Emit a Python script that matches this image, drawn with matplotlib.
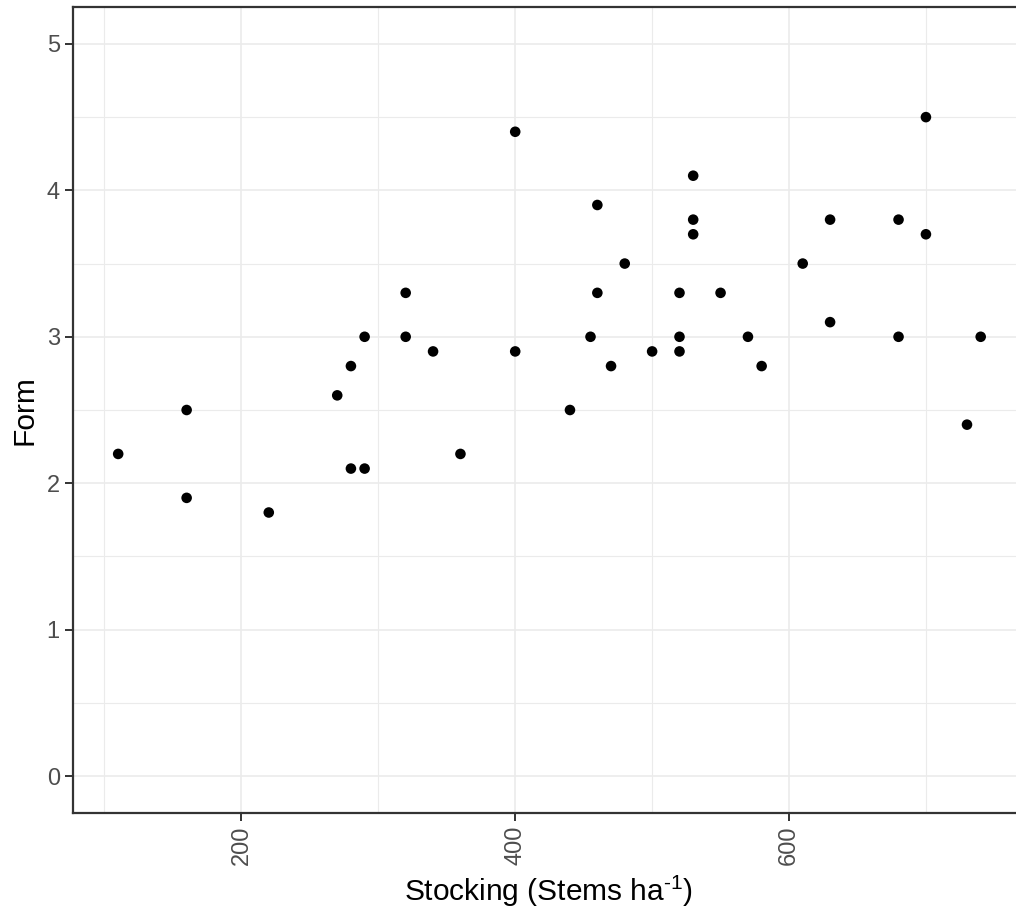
import matplotlib
matplotlib.use("Agg")
import matplotlib.pyplot as plt
from matplotlib.ticker import MultipleLocator

plt.rcParams["font.family"] = ["Liberation Sans", "DejaVu Sans"]
plt.rcParams["mathtext.fontset"] = "custom"
plt.rcParams["mathtext.rm"] = "Liberation Sans"
plt.rcParams["mathtext.it"] = "Liberation Sans"
plt.rcParams["mathtext.default"] = "rm"

# Stand stocking (stems per hectare) and stem form score
stocking = [110, 160, 160, 220, 270, 280, 280, 290, 290, 320,
            320, 340, 360, 400, 400, 440, 455, 460, 460, 470,
            480, 500, 520, 520, 520, 530, 530, 530, 550, 570,
            580, 610, 630, 630, 680, 680, 700, 700, 730, 740]
form = [2.2, 2.5, 1.9, 1.8, 2.6, 2.8, 2.1, 3.0, 2.1, 3.3,
        3.0, 2.9, 2.2, 4.4, 2.9, 2.5, 3.0, 3.9, 3.3, 2.8,
        3.5, 2.9, 3.3, 3.0, 2.9, 4.1, 3.8, 3.7, 3.3, 3.0,
        2.8, 3.5, 3.8, 3.1, 3.8, 3.0, 4.5, 3.7, 2.4, 3.0]

x_ticks = [200, 400, 600]
y_ticks = [0, 1, 2, 3, 4, 5]

W, H = 1016, 924
fig = plt.figure(figsize=(W / 100, H / 100), dpi=100)
fig.patch.set_facecolor("white")

# panel placed in pixel units; it runs slightly past the right edge
left_px, top_px, bottom_px = 73, 7.3, 812.7
width_px = 951.5
ax = fig.add_axes([left_px / W, (H - bottom_px) / H,
                   width_px / W, (bottom_px - top_px) / H])

ax.scatter(stocking, form, s=58, color="black", edgecolors="none", zorder=3)

ax.set_xlim(77, 772)
ax.set_ylim(-0.25, 5.25)
ax.set_xticks(x_ticks)
ax.set_yticks(y_ticks)
ax.xaxis.set_minor_locator(MultipleLocator(100))
ax.yaxis.set_minor_locator(MultipleLocator(0.5))

ax.grid(which="major", color="#EBEBEB", linewidth=1.2, zorder=0)
ax.grid(which="minor", color="#EBEBEB", linewidth=0.8, zorder=0)
ax.set_axisbelow(True)

for sp in ax.spines.values():
    sp.set_color("#333333")
    sp.set_linewidth(1.6)

ax.tick_params(which="major", length=5.5, width=1.4, color="#333333",
               labelcolor="#4D4D4D", labelsize=17, pad=4)
ax.tick_params(which="minor", length=0)
ax.tick_params(axis="x", labelrotation=90)

ax.set_xlabel(r"Stocking (Stems ha$^{\text{-1}}$)", fontsize=21.5, color="black", labelpad=6)
ax.set_ylabel("Form", fontsize=21.5, color="black", labelpad=6)

fig.savefig("out.png", dpi=100, facecolor="white")
